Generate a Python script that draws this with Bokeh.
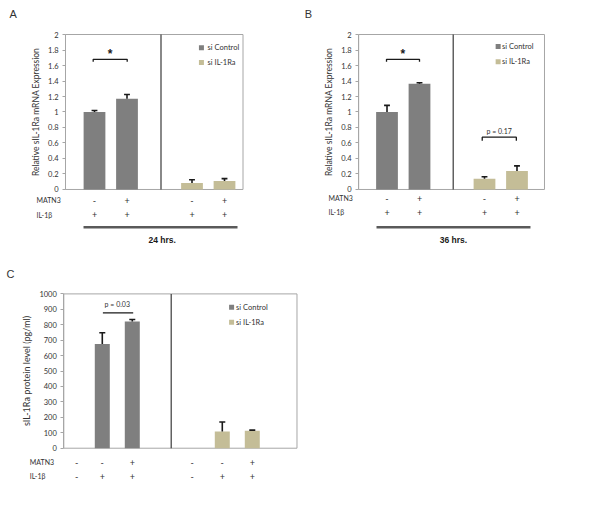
from bokeh.plotting import figure
from bokeh.models import LinearAxis, FixedTicker, Range1d
from bokeh.layouts import column, row
from bokeh.embed import file_html
from bokeh.resources import INLINE
from bokeh.core.properties import value

# ---------------- data ----------------
groups = ["si Control", "si IL-1Ra"]
group_colors = ["#7f7f7f", "#c4bd97"]

# Panel A (24 hrs, mRNA)
a_x = [0, 1, 3, 4]
a_mean = [1.00, 1.17, 0.085, 0.11]
a_err = [0.02, 0.055, 0.04, 0.03]
a_group = ["si Control", "si Control", "si IL-1Ra", "si IL-1Ra"]
a_sign_x = [0, 1, 3, 4]
a_matn3 = ["-", "+", "-", "+"]
a_il1b = ["+", "+", "+", "+"]
a_time = "24 hrs."

# Panel B (36 hrs, mRNA)
b_x = [0, 1, 3, 4]
b_mean = [1.00, 1.365, 0.14, 0.24]
b_err = [0.085, 0.012, 0.025, 0.065]
b_group = ["si Control", "si Control", "si IL-1Ra", "si IL-1Ra"]
b_sign_x = [0, 1, 3, 4]
b_matn3 = ["-", "+", "-", "+"]
b_il1b = ["+", "+", "+", "+"]
b_time = "36 hrs."

# Panel C (protein)
c_x = [1, 2, 5, 6]
c_mean = [676, 821, 108, 113]
c_err = [72, 13, 62, 4]
c_group = ["si Control", "si Control", "si IL-1Ra", "si IL-1Ra"]
c_sign_x = [0.15, 1, 2, 4, 5, 6]
c_matn3 = ["-", "-", "+", "-", "-", "+"]
c_il1b = ["-", "+", "+", "-", "+", "+"]

ab_yticks = [0, 0.2, 0.4, 0.6, 0.8, 1, 1.2, 1.4, 1.6, 1.8, 2]
ab_ylabels = ["0", "0.2", "0.4", "0.6", "0.8", "1", "1.2", "1.4", "1.6", "1.8", "2"]
c_yticks = [0, 100, 200, 300, 400, 500, 600, 700, 800, 900, 1000]
c_ylabels = [str(t) for t in c_yticks]

ab_ylabel = "Relative sIL-1Ra mRNA Expression"
c_ylabel = "sIL-1Ra protein level (pg/ml)"

# significance marks: (x0, x1, level, tip, text, text_x, text_y)
a_sig = [(-0.04, 1.006, 1.68, 1.65, "*", 0.48, 1.75)]
b_sig = [(-0.015, 1.0, 1.68, 1.65, "*", 0.49, 1.75),
         (2.93, 3.98, 0.675, 0.63, "p = 0.17", 3.45, 0.75)]
c_sig = [(1.02, 2.03, 877, 877, "p = 0.03", 1.5, 936)]

TXT = "#333333"
FONT = "Lato"
AFONT = "Liberation Sans"


def make_panel(letter, letter_xy, size, xr, yr, box, xs, mean, err, grp, bar_w, cap_w,
               sign_x, matn3, il1b, rows_y, row_lab_x, yticks, ylabels, ylabel,
               ylabel_size, legend_sq_x, legend_txt_x, legend_y, sig,
               time_line=None, time_text=None, time_xy=None):
    p = figure(width=size[0], height=size[1], output_backend="svg", toolbar_location=None,
               x_range=Range1d(*xr), y_range=Range1d(*yr),
               x_axis_location=None, y_axis_location=None,
               min_border=0, min_border_left=0, min_border_right=0,
               min_border_top=0, min_border_bottom=0)
    p.outline_line_color = None
    p.grid.visible = False
    p.background_fill_color = "white"
    p.border_fill_color = "white"

    left, right, div, ymax = box
    # chart box
    p.quad(left=[left], right=[right], bottom=[0], top=[ymax],
           fill_color=None, line_color="#a6a6a6", line_width=1)
    # divider
    p.segment(x0=[div], y0=[0], x1=[div], y1=[ymax], line_color="#3a3a3a", line_width=1.2)

    colors = [group_colors[groups.index(g)] for g in grp]
    p.vbar(x=xs, top=mean, bottom=0, width=bar_w, fill_color=colors, line_color=None)

    tops = [m + e for m, e in zip(mean, err)]
    p.segment(x0=xs, y0=mean, x1=xs, y1=tops, line_color="#1a1a1a", line_width=1.6)
    p.segment(x0=[x - cap_w / 2 for x in xs], y0=tops,
              x1=[x + cap_w / 2 for x in xs], y1=tops,
              line_color="#1a1a1a", line_width=1.6)

    # y axis
    ax = LinearAxis(fixed_location=left, bounds=(0, ymax),
                    ticker=FixedTicker(ticks=yticks),
                    major_label_overrides=dict(zip(yticks, ylabels)))
    ax.axis_line_color = "#a6a6a6"
    ax.major_tick_line_color = "#a6a6a6"
    ax.major_tick_out = 3
    ax.major_tick_in = 0
    ax.minor_tick_line_color = None
    ax.major_label_text_font = FONT
    ax.major_label_text_font_size = "7.5px"
    ax.major_label_text_color = TXT
    ax.major_label_standoff = 4
    ax.axis_label = ylabel
    ax.axis_label_text_font = FONT
    ax.axis_label_text_font_style = "normal"
    ax.axis_label_text_font_size = ylabel_size
    ax.axis_label_text_color = TXT
    ax.axis_label_standoff = 4
    p.add_layout(ax, "left")

    # legend
    p.scatter(x=[legend_sq_x] * len(groups), y=legend_y, marker="square", size=5,
              fill_color=group_colors, line_color=None)
    p.text(x=[legend_txt_x] * len(groups), y=legend_y, text=groups,
           text_font=value(FONT), text_font_size=value("7.5px"), text_color=TXT,
           text_align="left", text_baseline="middle")

    # condition rows
    n = len(sign_x)
    p.text(x=sign_x, y=[rows_y[0]] * n, text=matn3, text_font=value(FONT),
           text_font_size=value("9px"), text_color=TXT, text_align="center",
           text_baseline="middle")
    p.text(x=sign_x, y=[rows_y[1]] * n, text=il1b, text_font=value(FONT),
           text_font_size=value("9px"), text_color=TXT, text_align="center",
           text_baseline="middle")
    p.text(x=[row_lab_x, row_lab_x], y=rows_y, text=["MATN3", "IL-1\u03b2"],
           text_font=value(FONT), text_font_size=value("7px"), text_color=TXT,
           text_align="left", text_baseline="middle")

    # significance
    for (x0, x1, lvl, tip, t, tx, ty) in sig:
        p.line(x=[x0, x0, x1, x1], y=[tip, lvl, lvl, tip], line_color="#1a1a1a",
               line_width=1.3)
        is_star = t == "*"
        p.text(x=[tx], y=[ty], text=[t], text_font=value(AFONT if is_star else FONT),
               text_font_size=value("12px" if is_star else "7px"),
               text_font_style="bold" if is_star else "normal",
               text_color="#1a1a1a" if is_star else TXT,
               text_align="center", text_baseline="middle")

    if time_line is not None:
        (lx0, lx1, ly) = time_line
        p.segment(x0=[lx0], y0=[ly], x1=[lx1], y1=[ly], line_color="#5a5a5a",
                  line_width=2.5)
        p.text(x=[time_xy[0]], y=[time_xy[1]], text=[time_text], text_font=value(AFONT),
               text_font_size=value("8.5px"), text_font_style="bold",
               text_color="#1a1a1a", text_align="center", text_baseline="middle")

    # panel letter
    p.text(x=[letter_xy[0]], y=[letter_xy[1]], text=[letter], text_font=value(AFONT),
           text_font_size=value("11px"), text_color=TXT, text_align="center",
           text_baseline="middle")
    return p


pa = make_panel("A", (-2.50, 2.267), (300, 255), (-2.892, 6.338), (-0.852, 2.439),
                (-0.892, 4.569, 2.046, 2), a_x, a_mean, a_err, a_group, 0.67, 0.18,
                a_sign_x, a_matn3, a_il1b, [-0.142, -0.323], -1.785,
                ab_yticks, ab_ylabels, ab_ylabel, "8.5px",
                3.29, 3.48, [1.83, 1.64], a_sig,
                time_line=(-0.338, 4.4, -0.486), time_text=a_time, time_xy=(2.08, -0.658))

pb = make_panel("B", (-2.415, 2.267), (290, 255), (-2.662, 6.262), (-0.852, 2.439),
                (-0.872, 4.846, 2.037, 2), b_x, b_mean, b_err, b_group, 0.67, 0.18,
                b_sign_x, b_matn3, b_il1b, [-0.116, -0.297], -1.8,
                ab_yticks, ab_ylabels, ab_ylabel, "8.5px",
                3.42, 3.54, [1.845, 1.65], b_sig,
                time_line=(-0.323, 4.415, -0.486), time_text=b_time, time_xy=(2.046, -0.658))

pc = make_panel("C", (-2.06, 1132), (300, 245), (-2.393, 7.607), (-338.9, 1248.9),
                (-0.283, 7.49, 3.297, 1000), c_x, c_mean, c_err, c_group, 0.5, 0.2,
                c_sign_x, c_matn3, c_il1b, [-90.7, -181.5], -1.417,
                c_yticks, c_ylabels, c_ylabel, "9px",
                5.31, 5.46, [914, 817], c_sig)

layout = column(row(pa, pb), pc)
open("out.html", "w").write(file_html(layout, INLINE))
